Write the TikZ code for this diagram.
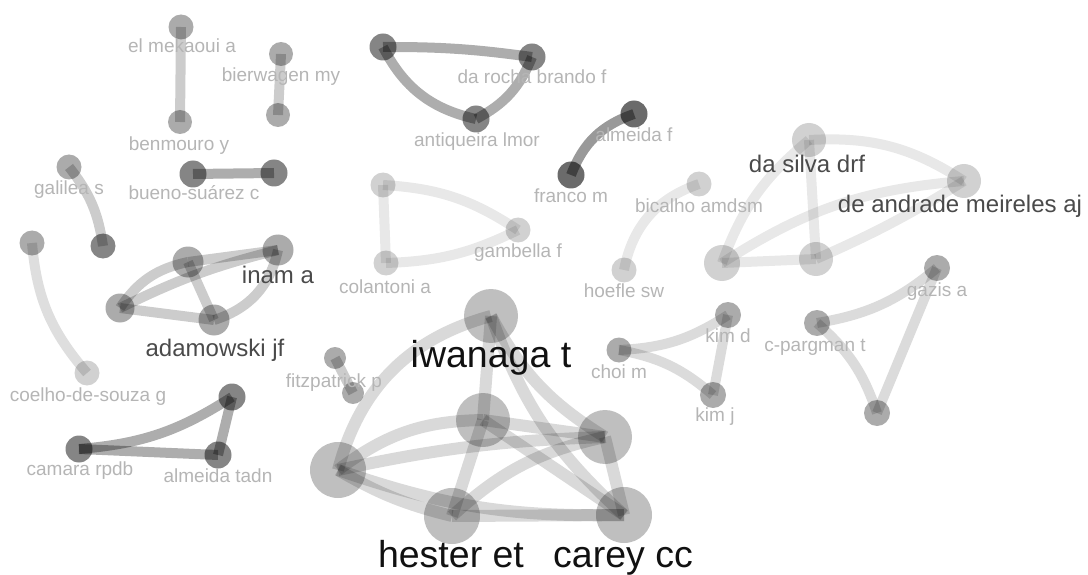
\documentclass[tikz,border=0pt]{standalone}
\usepackage{fontspec}
\setmainfont{Liberation Sans}
\usetikzlibrary{shadows}
\definecolor{labgray}{HTML}{B5B5B5}
\definecolor{midlab}{HTML}{4A4A4A}
\definecolor{biglab}{HTML}{111111}
\tikzset{
  nd/.style={circle, inner sep=0pt, minimum size=#1, fill=black, draw=none},
  lt/.style={fill opacity=0.18},
  md/.style={fill opacity=0.33},
  dk/.style={fill opacity=0.48},
  ed/.style={line width=10pt, draw=black, line cap=butt},
  elt/.style={ed, draw opacity=0.09},
  emd/.style={ed, draw opacity=0.2},
  edk/.style={ed, draw opacity=0.32},
  ebig/.style={line width=12pt, draw=black, line cap=butt, draw opacity=0.15},
  lb/.style={font=\fontsize{19}{19}\selectfont, text=labgray, anchor=base, inner sep=0pt},
  lbm/.style={font=\fontsize{24}{24}\selectfont, text=midlab, anchor=base, inner sep=0pt},
  lbb/.style={font=\fontsize{37.5}{37.5}\selectfont, text=biglab, anchor=base, inner sep=0pt},
}
\begin{document}
\begin{tikzpicture}[x=1pt,y=-1pt]
\useasboundingbox (0,0) rectangle (1088,575);
% ---------- nodes ----------
% el mekaoui / benmouro
\node[nd=25pt, md] (elm) at (181,27) {};
\node[nd=24pt, md] (ben) at (180,122) {};
% bierwagen
\node[nd=24pt, md] (bw1) at (281,54) {};
\node[nd=24pt, md] (bw2) at (278,115) {};
% bueno-suarez
\node[nd=27pt, dk] (bs1) at (193,174) {};
\node[nd=27pt, dk] (bs2) at (274,173) {};
% galilea
\node[nd=25pt, md] (gal1) at (69,167) {};
\node[nd=25pt, dk] (gal2) at (103,246) {};
% coelho
\node[nd=25pt, md] (co1) at (32,243) {};
\node[nd=25pt, lt] (co2) at (87,373) {};
% inam cluster
\node[nd=29pt, md] (in1) at (120,308) {};
\node[nd=31pt, md] (in2) at (188,262) {};
\node[nd=31pt, md] (in3) at (278,250) {};
\node[nd=31pt, md] (in4) at (214,320) {};
% camara cluster
\node[nd=27pt, dk] (ca1) at (79,449) {};
\node[nd=27pt, dk] (ca2) at (218,455) {};
\node[nd=27pt, dk] (ca3) at (232,397) {};
% fitzpatrick
\node[nd=22pt, md] (fz1) at (335,358) {};
\node[nd=22pt, md] (fz2) at (353,393) {};
% da rocha cluster
\node[nd=27pt, dk] (dr1) at (383,47) {};
\node[nd=27pt, dk] (dr2) at (532,57) {};
\node[nd=27pt, dk] (dr3) at (476,119) {};
% almeida f / franco m
\node[nd=27pt, dk, fill opacity=0.58] (af) at (634,114) {};
\node[nd=27pt, dk, fill opacity=0.58] (fm) at (571,175) {};
% colantoni cluster
\node[nd=25pt, lt] (cl1) at (383,185) {};
\node[nd=25pt, lt] (cl2) at (386,263) {};
\node[nd=25pt, lt] (cl3) at (518,230) {};
% bicalho / hoefle
\node[nd=25pt, lt] (bi) at (699,184) {};
\node[nd=25pt, lt] (ho) at (624,270) {};
% da silva cluster
\node[nd=34pt, lt] (ds1) at (809,140) {};
\node[nd=34pt, lt] (ds2) at (964,181) {};
\node[nd=36pt, lt] (ds3) at (722,263) {};
\node[nd=34pt, lt] (ds4) at (816,259) {};
% choi / kim
\node[nd=25pt, md] (ch) at (619,350) {};
\node[nd=26pt, md] (kd) at (728,315) {};
\node[nd=26pt, md] (kj) at (713,395) {};
% c-pargman / gazis
\node[nd=26pt, md] (gz) at (937,268) {};
\node[nd=26pt, md] (cp) at (817,323) {};
\node[nd=26pt, md] (cpb) at (877,413) {};
% big cluster
\node[nd=54pt, md, fill opacity=0.25] (iw) at (491,316) {};
\node[nd=54pt, md, fill opacity=0.25] (bc) at (483,420) {};
\node[nd=54pt, md, fill opacity=0.25] (br) at (605,437) {};
\node[nd=56pt, md, fill opacity=0.25] (bl) at (338,470) {};
\node[nd=56pt, md, fill opacity=0.25] (he) at (452,516) {};
\node[nd=56pt, md, fill opacity=0.25] (cc) at (624,515) {};
% ---------- edges ----------
\draw[emd] (elm.center) -- (ben.center);
\draw[emd] (bw1.center) -- (bw2.center);
\draw[edk] (bs1.center) -- (bs2.center);
\draw[emd] (gal1.center) to[bend left=15] (gal2.center);
\draw[elt, draw opacity=0.13] (co1.center) to[bend right=18] (co2.center);
\draw[emd] (in1.center) to[bend left=22] (in2.center);
\draw[emd] (in1.center) to[bend left=6] (in3.center);
\draw[emd] (in1.center) -- (in4.center);
\draw[emd] (in2.center) -- (in3.center);
\draw[emd] (in2.center) -- (in4.center);
\draw[emd] (in4.center) to[bend right=30] (in3.center);
\draw[edk] (ca1.center) to[bend right=14] (ca3.center);
\draw[edk] (ca1.center) -- (ca2.center);
\draw[edk] (ca2.center) -- (ca3.center);
\draw[emd] (fz1.center) -- (fz2.center);
\draw[edk] (dr1.center) to[bend left=4] (dr2.center);
\draw[edk] (dr1.center) to[bend right=25] (dr3.center);
\draw[edk] (dr3.center) to[bend right=20] (dr2.center);
\draw[edk, draw opacity=0.4] (fm.center) to[bend left=25] (af.center);
\draw[elt] (cl1.center) -- (cl2.center);
\draw[elt] (cl1.center) to[bend left=15] (cl3.center);
\draw[elt] (cl2.center) to[bend right=12] (cl3.center);
\draw[elt] (ho.center) to[bend left=30] (bi.center);
\draw[elt] (ds3.center) to[bend left=15] (ds1.center);
\draw[elt] (ds1.center) to[bend left=18] (ds2.center);
\draw[elt] (ds3.center) to[bend left=14] (ds2.center);
\draw[elt] (ds3.center) -- (ds4.center);
\draw[elt] (ds1.center) -- (ds4.center);
\draw[elt] (ds4.center) to[bend right=4] (ds2.center);
\draw[elt, draw opacity=0.14] (ch.center) to[bend right=15] (kd.center);
\draw[elt, draw opacity=0.14] (ch.center) to[bend left=15] (kj.center);
\draw[elt, draw opacity=0.14] (kd.center) -- (kj.center);
\draw[elt, draw opacity=0.14] (cp.center) to[bend right=15] (gz.center);
\draw[elt, draw opacity=0.14] (cp.center) to[bend left=15] (cpb.center);
\draw[elt, draw opacity=0.14] (cpb.center) -- (gz.center);
\draw[ebig] (bl.center) to[bend left=30] (iw.center);
\draw[ebig] (iw.center) -- (bc.center);
\draw[ebig] (iw.center) to[bend right=15] (br.center);
\draw[ebig] (iw.center) to[bend right=14] (cc.center);
\draw[ebig] (bl.center) to[bend left=18] (bc.center);
\draw[ebig] (bl.center) to[bend left=5] (br.center);
\draw[ebig] (bl.center) to[bend right=8] (he.center);
\draw[ebig] (bl.center) to[bend right=10] (cc.center);
\draw[ebig] (bc.center) -- (he.center);
\draw[ebig] (bc.center) -- (br.center);
\draw[ebig] (bc.center) -- (cc.center);
\draw[ebig] (he.center) to[bend left=15] (br.center);
\draw[ebig] (he.center) -- (cc.center);
\draw[ebig] (br.center) -- (cc.center);
% ---------- labels ----------
\node[lb] (l1) at (182,53) {el mekaoui a};
\node[lb] (l2) at (281,82) {bierwagen my};
\node[lb] (l3) at (179,151) {benmouro y};
\node[lb] (l4) at (69,195) {galilea s};
\node[lb] (l5) at (194,200) {bueno-suárez c};
\node[lbm] (l6) at (278,283) {inam a};
\node[lbm] (l7) at (215,356) {adamowski jf};
\node[lb] (l8) at (88,401) {coelho-de-souza g};
\node[lb] (l9) at (80,475) {camara rpdb};
\node[lb] (l10) at (218,482) {almeida tadn};
\node[lb] (l11) at (334,387) {fitzpatrick p};
\node[lb] (l12) at (532,84) {da rocha brando f};
\node[lb] (l13) at (477,147) {antiqueira lmor};
\node[lb] (l14) at (634,142) {almeida f};
\node[lb] (l15) at (571,203) {franco m};
\node[lb] (l16) at (518,257) {gambella f};
\node[lb] (l17) at (385,293) {colantoni a};
\node[lb] (l18) at (699,213) {bicalho amdsm};
\node[lb] (l19) at (624,297) {hoefle sw};
\node[lb] (l20) at (728,342) {kim d};
\node[lb] (l21) at (619,378) {choi m};
\node[lb] (l22) at (715,421) {kim j};
\node[lb] (l23) at (815,351) {c-pargman t};
\node[lb] (l24) at (937,296) {gazis a};
\node[lbm] (l25) at (807,173) {da silva drf};
\node[lbm] (l26) at (960,213) {de andrade meireles aj};
\node[lbb] (l27) at (491,367) {iwanaga t};
\node[lbb] (l28) at (451,567) {hester et};
\node[lbb] (l29) at (623,567) {carey cc};
\end{tikzpicture}
\end{document}
